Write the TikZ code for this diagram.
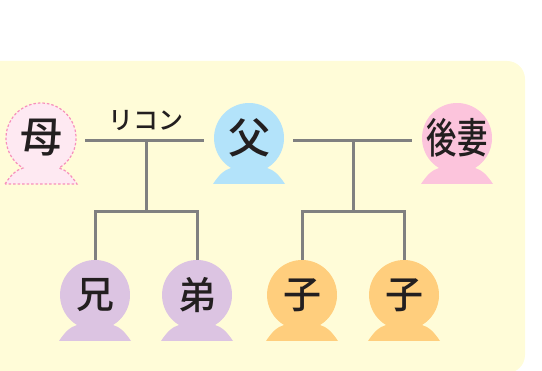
\documentclass[tikz,border=0pt]{standalone}
\usepackage{fontspec}
\setmainfont[BoldFont={Noto Sans CJK JP Medium}]{Noto Sans CJK JP}
\usepackage{tikz}

\definecolor{panelcol}{HTML}{FFFCD8}
\definecolor{linecol}{HTML}{808080}
\definecolor{inkcol}{HTML}{231F20}
\definecolor{fathercol}{HTML}{B3E3FA}
\definecolor{wifecol}{HTML}{FCC4DC}
\definecolor{siblingcol}{HTML}{DCC4E2}
\definecolor{childcol}{HTML}{FFCE7D}
\definecolor{mothercol}{HTML}{FEE9F2}
\definecolor{dotcol}{HTML}{F78FBB}

\tikzset{
    headnode/.style={circle, minimum size=70pt, inner sep=0pt, text=inkcol, font=\fontsize{38}{38}\selectfont\bfseries},
    tieline/.style={draw=linecol, line width=3pt}
}

% Head and shoulders as one outline, from the centre of the head
\newcommand{\personshape}[3]{%
    \path[#3] (#1-36, #2-46) .. controls (#1-30, #2-37) and (#1-25, #2-32) .. (#1-18, #2-30)
        arc[start angle=239, end angle=-59, radius=35pt]
        .. controls (#1+25, #2-32) and (#1+30, #2-37) .. (#1+36, #2-46) -- cycle;
}

\begin{document}
\begin{tikzpicture}[x=1pt, y=1pt]
    \useasboundingbox (0, 0) rectangle (542, 371);

    % Yellow panel runs off the left and the bottom
    \fill[panelcol, rounded corners=18pt] (-30, -2) rectangle (525, 310);

    % Top row
    \personshape{41}{233}{fill=mothercol, draw=dotcol, line width=1.2pt, dash pattern=on 2.5pt off 2pt}
    \personshape{249}{233}{fill=fathercol}
    \personshape{457}{233}{fill=wifecol}

    \node[headnode, font=\fontsize{42}{42}\selectfont\bfseries] (mother) at (41, 233) {\raisebox{-3pt}{母}};
    \node[headnode, font=\fontsize{42}{42}\selectfont\bfseries] (father) at (249, 233) {\raisebox{2pt}{父}};
    \node[headnode, font=\fontsize{32}{32}\selectfont\bfseries] (wife) at (457, 233) {\raisebox{-3pt}{\scalebox{0.95}[1.3]{後妻}}};

    % Bottom row
    \foreach \name/\x/\col/\lab in {elder/95/siblingcol/兄, younger/197/siblingcol/弟, childa/302/childcol/子, childb/404/childcol/子} {
        \personshape{\x}{76}{fill=\col}
        \node[headnode] (\name) at (\x, 76) {\lab};
    }

    \node[font=\fontsize{25}{25}\selectfont\bfseries, text=inkcol] (rikon) at (146, 250) {リコン};

    % Fork points of the two couples
    \coordinate (exsplit) at (146, 230);
    \coordinate (exfork) at (146, 159);
    \coordinate (nowsplit) at (353, 230);
    \coordinate (nowfork) at (353, 159);

    % Couples
    \draw[tieline, shorten <=9pt, shorten >=10pt] ([yshift=-3pt]mother.east) -- ([yshift=-3pt]father.west);
    \draw[tieline, shorten <=9pt, shorten >=9pt] ([yshift=-3pt]father.east) -- ([yshift=-3pt]wife.west);

    % Children
    \draw[tieline] (exsplit) -- (exfork);
    \draw[tieline] (elder.north) |- (exfork) -| (younger.north);
    \draw[tieline] (nowsplit) -- (nowfork);
    \draw[tieline] (childa.north) |- (nowfork) -| (childb.north);

\end{tikzpicture}
\end{document}
